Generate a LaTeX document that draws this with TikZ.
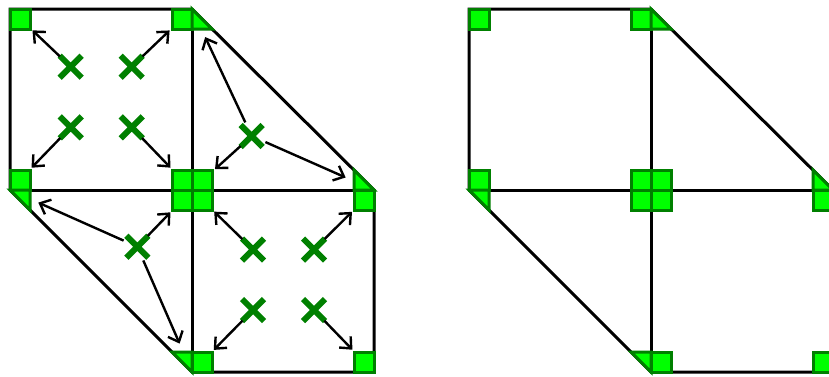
\documentclass[tikz,border=0pt]{standalone}
\usepackage{tikz}
\usetikzlibrary{shapes.misc, arrows.meta}
\definecolor{markfill}{RGB}{0,255,0}
\definecolor{markline}{RGB}{0,128,0}
\tikzset{
  meshedge/.style={draw=black, line width=3pt, line join=miter},
  cornermark/.style={draw=markline, fill=markfill, line width=3pt},
  gausspt/.style={cross out, draw=markline, line width=6pt, minimum size=16pt, inner sep=0pt},
  pullarrow/.style={-{Straight Barb[length=9pt,width=16pt]}, line width=2.4pt,
    shorten <=15pt, shorten >=31pt}
}
% mesh edges and the corner markers of every element
\newcommand{\meshpanel}{%
  \draw[meshedge] (10,9) -- (192,9) -- (374,190) -- (374,372) -- (192,372) -- (10,190) -- cycle;
  \draw[meshedge] (192,9) -- (192,372);
  \draw[meshedge] (10,190) -- (374,190);
  \foreach \x/\y in {10/9, 172/9, 10/170, 172/170, 192/170, 172/190, 192/190,
                     354/190, 354/352, 192/352}
    \draw[cornermark] (\x,\y) rectangle ++(20,20);
  \draw[cornermark] (192,9) -- (192,29) -- (212,29) -- cycle;
  \draw[cornermark] (10,190) -- (30,190) -- (30,210) -- cycle;
  \draw[cornermark] (354,170) -- (354,190) -- (374,190) -- cycle;
  \draw[cornermark] (172,352) -- (192,352) -- (192,372) -- cycle;
}

\begin{document}
\begin{tikzpicture}[x=1pt, y=-1pt]
  \clip (0,0) rectangle (829,376);

  % left mesh with the quadrature points
  \meshpanel
  \coordinate (va) at (10,9);
  \coordinate (vb) at (192,9);
  \coordinate (vl) at (10,190);
  \coordinate (vo) at (192,190);
  \coordinate (vc) at (374,190);
  \coordinate (vd) at (192,372);
  \coordinate (ve) at (374,372);

  \node[gausspt] (g1)  at (70.7,66.7)  {};
  \node[gausspt] (g2)  at (131.7,66.7) {};
  \node[gausspt] (g3)  at (70.7,127.3) {};
  \node[gausspt] (g4)  at (131.7,127.3){};
  \node[gausspt] (g5)  at (251.7,136)  {};
  \node[gausspt] (g6)  at (137.3,246.7){};
  \node[gausspt] (g7)  at (253,249.5)  {};
  \node[gausspt] (g8)  at (314,249.5)  {};
  \node[gausspt] (g9)  at (253,310)    {};
  \node[gausspt] (g10) at (314,310)    {};

  \foreach \g/\v in {g1/va, g2/vb, g3/vl, g4/vo,
                     g5/vb, g5/vo, g5/vc,
                     g6/vl, g6/vo, g6/vd,
                     g7/vo, g8/vc, g9/vd, g10/ve}
    \draw[pullarrow] (\g.center) -- (\v);

  % right mesh, markers only
  \begin{scope}[xshift=459pt]
    \meshpanel
  \end{scope}
\end{tikzpicture}
\end{document}
